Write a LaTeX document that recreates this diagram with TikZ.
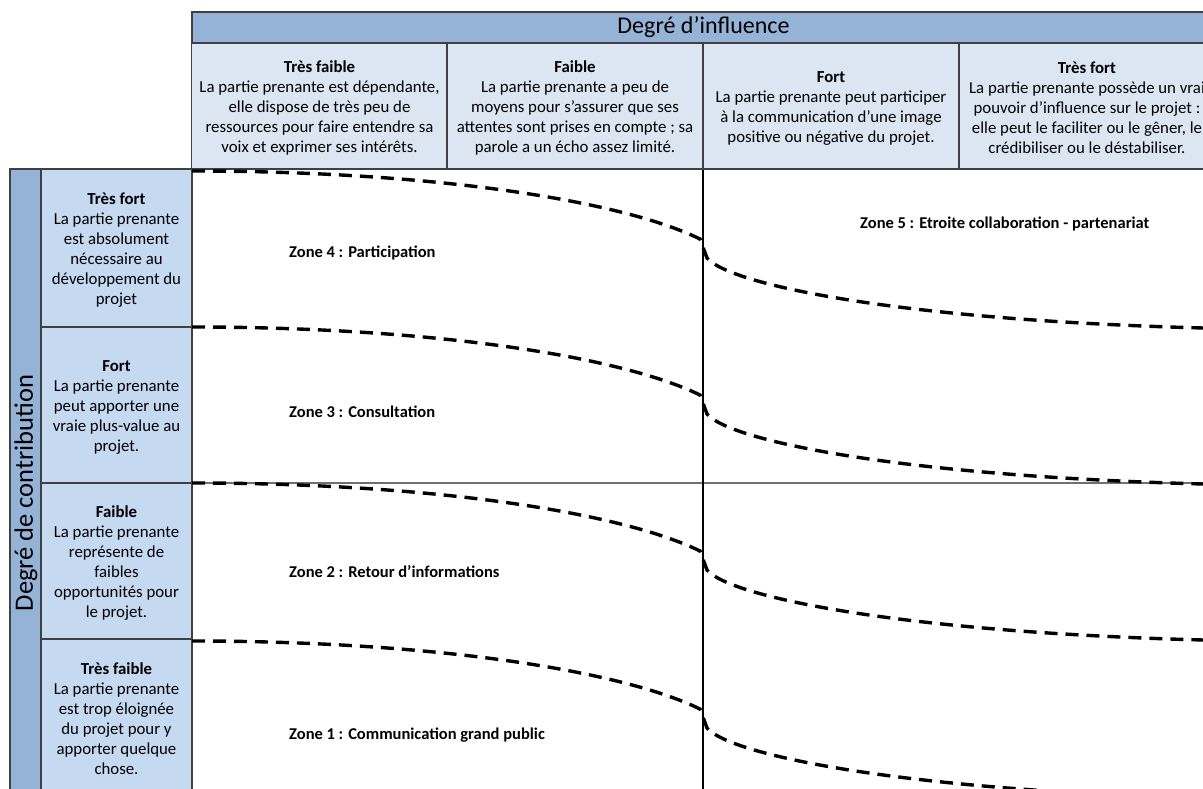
\documentclass[tikz,border=0pt]{standalone}
\usepackage{fontspec}
\setmainfont{Carlito}
\definecolor{barblue}{HTML}{95B3D7}
\definecolor{colblue}{HTML}{DCE6F2}
\definecolor{rowblue}{HTML}{C5D9F1}
\definecolor{edgegray}{HTML}{404040}
\definecolor{gridgray}{HTML}{707070}
\begin{document}
\begin{tikzpicture}[x=1pt,y=-1pt,
  cellbox/.style={draw=edgegray, line width=1.2pt, inner sep=0pt, outer sep=0pt, align=center, text=black},
  bodytext/.style={font=\fontsize{16.8}{20}\selectfont},
  titletext/.style={font=\fontsize{24}{28}\selectfont},
  sidetext/.style={font=\fontsize{26.5}{30}\selectfont},
  celltext/.style={align=center, inner sep=0pt, text=black, font=\fontsize{16.8}{20}\selectfont},
  zonelabel/.style={anchor=west, inner sep=0pt, font=\bfseries\fontsize{16.5}{19}\selectfont},
  zonecurve/.style={line width=3.4pt, dash pattern=on 13pt off 8pt, black}
]
\useasboundingbox (0,0) rectangle (1203,789);
\clip (0,0) rectangle (1203,789);
\fill[white] (0,0) rectangle (1203,789);

% header bar
\node[cellbox, fill=barblue, minimum width=1023pt, minimum height=31pt, titletext] (hdr) at (703.5,27.5) {Degré d’influence};

% column headers (boxes)
\node[cellbox, fill=colblue, minimum width=256pt, minimum height=126pt] (c1) at (319.5,106) {};
\node[cellbox, fill=colblue, minimum width=256pt, minimum height=126pt] (c2) at (575,106) {};
\node[cellbox, fill=colblue, minimum width=256pt, minimum height=126pt] (c3) at (831,106) {};
\node[cellbox, fill=colblue, minimum width=256pt, minimum height=126pt] (c4) at (1087,106) {};
% column header texts
\node[celltext] (t1) at ([yshift=-2pt]c1.center) {\textbf{Très faible}\\La partie prenante est dépendante,\\elle dispose de très peu de\\ressources pour faire entendre sa\\voix et exprimer ses intérêts.};
\node[celltext] (t2) at ([yshift=-2pt]c2.center) {\textbf{Faible}\\La partie prenante a peu de\\moyens pour s’assurer que ses\\attentes sont prises en compte ; sa\\parole a un écho assez limité.};
\node[celltext] (t3) at ([yshift=-2pt]c3.center) {\textbf{Fort}\\La partie prenante peut participer\\à la communication d’une image\\positive ou négative du projet.};
\node[celltext] (t4) at ([yshift=-2pt]c4.center) {\textbf{Très fort}\\La partie prenante possède un vrai\\pouvoir d’influence sur le projet :\\elle peut le faciliter ou le gêner, le\\crédibiliser ou le déstabiliser.};

% left bar
\node[cellbox, fill=barblue, minimum width=31pt, minimum height=648pt] (lbar) at (25.5,493) {};
\node[sidetext, rotate=90, inner sep=0pt] (lbartext) at (26,493) {Degré de contribution};

% row headers (boxes)
\node[cellbox, fill=rowblue, minimum width=151pt, minimum height=158pt] (r1) at (116.5,248) {};
\node[cellbox, fill=rowblue, minimum width=151pt, minimum height=156pt] (r2) at (116.5,405) {};
\node[cellbox, fill=rowblue, minimum width=151pt, minimum height=156pt] (r3) at (116.5,561) {};
\node[cellbox, fill=rowblue, minimum width=151pt, minimum height=155pt] (r4) at (116.5,716.5) {};
% row header texts
\node[celltext] (s1) at ([yshift=-2pt]r1.center) {\textbf{Très fort}\\La partie prenante\\est absolument\\nécessaire au\\développement du\\projet};
\node[celltext] (s2) at ([yshift=-2pt]r2.center) {\textbf{Fort}\\La partie prenante\\peut apporter une\\vraie plus-value au\\projet.};
\node[celltext] (s3) at ([yshift=-2pt]r3.center) {\textbf{Faible}\\La partie prenante\\représente de\\faibles\\opportunités pour\\le projet.};
\node[celltext] (s4) at ([yshift=-2pt]r4.center) {\textbf{Très faible}\\La partie prenante\\est trop éloignée\\du projet pour y\\apporter quelque\\chose.};

% grid lines
\draw[gridgray, line width=1.4pt] (192,483) -- (1203,483);
\draw[black, line width=1.3pt] (703,169) -- (703,789);
\draw[edgegray, line width=1.2pt] (192,169) -- (1215,169);

% dashed zone curves
\foreach \o in {0,156,312,470}{
  \draw[zonecurve, shift={(0,\o)}] (192,171) .. controls (430,171) and (620,200) .. (700,239)
     -- (707,258) .. controls (730,285) and (900,320) .. (1203,328);
}

% zone labels
\node[zonelabel] (z4) at (289,253) {Zone 4 : Participation};
\node[zonelabel] (z3) at (289,412) {Zone 3 : Consultation};
\node[zonelabel] (z2) at (289,572) {Zone 2 : Retour d’informations};
\node[zonelabel] (z1) at (289,735) {Zone 1 : Communication grand public};
\node[zonelabel] (z5) at (860,224) {Zone 5 : Etroite collaboration - partenariat};
\end{tikzpicture}
\end{document}
